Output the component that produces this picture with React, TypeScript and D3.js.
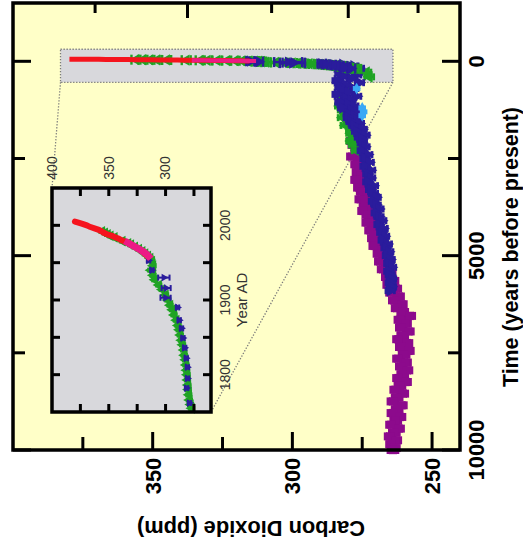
import { useEffect, useRef } from 'react';
import * as d3 from 'd3';

// ice core CO2, [years before present, ppm]
const purpleCore: [number, number][] = [
  [2050, 278.5], [2150, 278], [2250, 277], [2350, 276], [2450, 278.5], [2550, 276], [2650, 277],
  [2750, 275], [2850, 276.5], [2950, 275.5], [3050, 277], [3150, 274.5], [3250, 276], [3350, 275],
  [3450, 273.5], [3550, 275.5], [3650, 274], [3750, 272.5], [3850, 274.5], [3950, 273], [4050, 271.5],
  [4150, 273], [4250, 271], [4350, 272], [4450, 270], [4550, 271], [4650, 269], [4750, 270.5],
  [4850, 268], [4950, 269], [5050, 267], [5150, 268.5], [5250, 266], [5350, 267.5], [5450, 265],
  [5550, 266], [5650, 264], [5750, 265.5], [5850, 263], [5950, 264.5], [6050, 262], [6150, 263.5],
  [6250, 261], [6350, 262.5], [6450, 260.5], [6550, 258], [6650, 261.5], [6750, 259.5], [6850, 261],
  [6950, 258.5], [7050, 260.5], [7150, 262], [7250, 259], [7350, 261], [7450, 258.5], [7550, 260],
  [7650, 262], [7750, 259.5], [7850, 261], [7950, 259], [8050, 260.5], [8150, 262], [8250, 259.5],
  [8350, 261.5], [8450, 263], [8550, 260.5], [8650, 262.5], [8750, 264], [8850, 261], [8950, 262.5],
  [9050, 264], [9150, 261.5], [9250, 263], [9350, 264.5], [9450, 262], [9550, 263.5], [9650, 265],
  [9750, 263], [9850, 264.5], [9950, 263.5], [10000, 264],
];

const blueCore: [number, number][] = [
  [80, 282], [120, 278], [150, 284], [180, 276], [200, 281], [230, 279], [250, 280], [300, 283],
  [350, 277], [400, 282], [450, 279], [500, 284], [550, 276], [600, 281], [650, 283], [700, 278],
  [750, 282], [800, 280], [850, 284], [900, 277], [950, 281], [1000, 279], [1050, 283], [1100, 280],
  [1150, 278], [1200, 282], [1250, 279], [1300, 277], [1350, 280], [1400, 278], [1450, 280],
  [1500, 277], [1550, 279], [1600, 276], [1650, 278], [1700, 277], [1750, 275], [1800, 277],
  [1850, 276], [1900, 274], [1950, 276], [2000, 275], [2100, 275], [2200, 274], [2300, 275],
  [2400, 273], [2500, 274], [2600, 272.5], [2700, 274], [2800, 272], [2900, 273], [3000, 272],
  [3100, 273], [3200, 271], [3300, 272], [3400, 271], [3500, 270], [3600, 271], [3700, 270],
  [3800, 269], [3900, 270], [4000, 269], [4100, 268], [4200, 269], [4300, 267.5], [4400, 268],
  [4500, 267], [4600, 267.5], [4700, 266], [4800, 266.5], [4900, 265.5], [5000, 266], [5100, 265],
  [5200, 265.5], [5300, 264.5], [5400, 265.5], [5500, 265], [5600, 264.5], [5700, 265],
  [5800, 264.5], [5900, 265],
];

const greenCore: [number, number][] = [
  [280, 273.5], [400, 272.5], [700, 280], [900, 282], [1050, 281], [1150, 283], [1250, 282],
  [1350, 281], [1450, 282], [1550, 280], [1650, 281], [1750, 279], [1850, 279], [1950, 278],
  [2050, 279], [2150, 278], [2300, 277],
];

const cyanCore: [number, number][] = [[700, 277], [1200, 275], [1300, 274.5], [1400, 275]];

// since 1750, [year AD, ppm]
const redAtmos: [number, number][] = [
  [1958, 315.3], [1960, 316.9], [1962, 318.4], [1964, 319.6], [1966, 321.4], [1968, 323.0],
  [1970, 325.7], [1972, 327.5], [1974, 330.2], [1976, 332.0], [1978, 335.4], [1980, 338.7],
  [1982, 341.1], [1984, 344.4], [1986, 347.2], [1988, 351.6], [1990, 354.4], [1992, 356.4],
  [1994, 358.8], [1996, 362.6], [1998, 366.7], [2000, 369.4], [2002, 373.2], [2004, 377.5],
  [2005, 379.8],
];

const pinkFirn: [number, number][] = [
  [1955, 313], [1958, 314.5], [1961, 316.5], [1964, 319], [1967, 322], [1970, 325.5],
  [1973, 329], [1976, 332.5], [1979, 336],
];

const greenIce: [number, number][] = [
  [1992, 356], [1990, 353.5], [1988, 351], [1986, 348.5], [1984, 345], [1979, 338], [1976, 333],
  [1974, 330.5], [1971, 327], [1968, 323.5], [1965, 320.5], [1962, 318], [1959, 315.5],
  [1956, 313.5], [1952, 312], [1946, 311], [1940, 313], [1933, 311], [1927, 309.5], [1920, 306],
  [1914, 303], [1907, 300], [1900, 298], [1893, 296], [1887, 294], [1880, 292.5], [1873, 290.5],
  [1866, 289], [1860, 288], [1853, 287], [1846, 286], [1840, 285], [1833, 284], [1826, 283.5],
  [1820, 282.5], [1813, 282], [1806, 281.5], [1800, 281], [1793, 280.7], [1786, 280.3],
  [1780, 280], [1773, 279.5], [1766, 279], [1760, 278], [1755, 277],
];

// [year AD, ppm, error]
const blueIce: [number, number, number][] = [
  [1953, 315, 1.5], [1940, 312, 1.5], [1930, 301.5, 5], [1916, 299.5, 4], [1903, 300, 4.5],
  [1890, 289.5, 1.5], [1873, 288, 1.5], [1862, 286, 1.5], [1849, 284.7, 1.5], [1836, 283.2, 1.5],
  [1822, 281.8, 1.5], [1810, 280.8, 1.5], [1795, 280.7, 1.5], [1782, 281.5, 1.5], [1762, 279, 1.5],
];

const co2Major = [350, 300, 250];
const co2Minor = [375, 325, 275];
const timeMajor = [0, 5000, 10000];
const timeMinor = [2500, 7500];
const forcingMajor = [0, 1];
const forcingMinor = [-0.5, 0.5, 1.5];
const insetCo2Labels = [400, 350, 300];
const insetCo2Ticks = [375, 350, 325, 300, 275];
const insetYearLabels = [1800, 1900, 2000];
const insetYearTicks = [1800, 1850, 1900, 1950, 2000];
const zoomCo2 = [383, 264];
const zoomTime = [-310, 540];

const C = {
  plotBg: '#ffffc8',
  grey: '#d8d8dc',
  dots: '#7a7a7a',
  purple: '#8c0a8c',
  blue: '#2a1c9c',
  green: '#1fa324',
  cyan: '#3aa8f5',
  red: '#f5141e',
  pink: '#ec1a86',
};
const FONT = '"Liberation Sans", Arial, sans-serif';

type Pt = { x: number; y: number; lo: number; hi: number };

function drawMarks(g: any, pts: Pt[], color: string, shape: any, size: number, rot: number, cap: number, sw: number) {
  const gg = g.append('g').attr('stroke', color).attr('fill', color);
  gg.selectAll('line.err').data(pts).join('line').attr('class', 'err')
    .attr('x1', (d: Pt) => d.lo).attr('x2', (d: Pt) => d.hi)
    .attr('y1', (d: Pt) => d.y).attr('y2', (d: Pt) => d.y)
    .attr('stroke-width', sw);
  ['lo', 'hi'].forEach(k => {
    gg.selectAll(`line.cap${k}`).data(pts).join('line').attr('class', `cap${k}`)
      .attr('x1', (d: any) => d[k]).attr('x2', (d: any) => d[k])
      .attr('y1', (d: Pt) => d.y - cap / 2).attr('y2', (d: Pt) => d.y + cap / 2)
      .attr('stroke-width', sw);
  });
  gg.selectAll('path').data(pts).join('path')
    .attr('d', d3.symbol().type(shape).size(size))
    .attr('stroke', 'none')
    .attr('transform', (d: Pt) => `translate(${d.x},${d.y}) rotate(${rot})`);
}

export default function App() {
  const ref = useRef<SVGSVGElement>(null);

  useEffect(() => {
    const svg = d3.select(ref.current);
    svg.selectAll('*').remove();

    const x = d3.scaleLinear().domain([400, 240]).range([13, 460]);
    const y = d3.scaleLinear().domain([-1500, 10000]).range([3, 450]);
    const bp = (yr: number) => 1950 - yr;
    const [x0, x1] = x.range();
    const [y0, y1] = y.range();

    svg.append('rect').attr('x', x0).attr('y', y0).attr('width', x1 - x0).attr('height', y1 - y0)
      .attr('fill', C.plotBg);

    // zoom box + connectors
    const bx0 = x(zoomCo2[0]), bx1 = x(zoomCo2[1]), by0 = y(zoomTime[0]), by1 = y(zoomTime[1]);
    svg.append('rect').attr('x', bx0).attr('y', by0).attr('width', bx1 - bx0).attr('height', by1 - by0)
      .attr('fill', C.grey).attr('stroke', C.dots).attr('stroke-width', 1.3).attr('stroke-dasharray', '1.3,1.7');

    const ix = d3.scaleLinear().domain([400, 260]).range([52, 211]);
    const iy = d3.scaleLinear().domain([2050, 1750]).range([188, 412]);
    const [ix0, ix1] = ix.range();
    const [iy0, iy1] = iy.range();

    const conn = svg.append('g').attr('stroke', C.dots).attr('stroke-width', 1.3).attr('stroke-dasharray', '1.3,1.7');
    conn.append('line').attr('x1', bx0).attr('y1', by1).attr('x2', ix0).attr('y2', iy0);
    conn.append('line').attr('x1', bx1).attr('y1', by1).attr('x2', ix1).attr('y2', iy1);

    // main data
    const mp = (t: number, c: number, e: number): Pt => ({ x: x(c), y: y(t), lo: x(c + e), hi: x(c - e) });
    drawMarks(svg, purpleCore.map(([t, c]) => mp(t, c, 1.7)), C.purple, d3.symbolSquare, 70, 0, 8, 3.2);
    drawMarks(svg, greenCore.map(([t, c]) => mp(t, c, 1.6)), C.green, d3.symbolTriangle, 60, -90, 7, 2.8);
    drawMarks(svg, blueCore.map(([t, c]) => mp(t, c, 1.5)), C.blue, d3.symbolTriangle, 60, 90, 7, 2.8);
    drawMarks(svg, cyanCore.map(([t, c]) => mp(t, c, 1)), C.cyan, d3.symbolDiamond, 40, 0, 5, 2);
    drawMarks(svg, greenIce.map(([yr, c]) => mp(bp(yr), c, 1.6)), C.green, d3.symbolTriangle, 55, -90, 10, 2.4);
    drawMarks(svg, blueIce.map(([yr, c, e]) => mp(bp(yr), c, e)), C.blue, d3.symbolTriangle, 55, 90, 10, 2.4);

    const mline = d3.line<[number, number]>().x(d => x(d[1])).y(d => y(bp(d[0])));
    svg.append('path').datum(redAtmos).attr('d', mline).attr('fill', 'none')
      .attr('stroke', C.red).attr('stroke-width', 5);
    svg.append('path').datum(pinkFirn).attr('d', mline).attr('fill', 'none')
      .attr('stroke', C.pink).attr('stroke-width', 4);

    // inset
    const inset = svg.append('g');
    inset.append('rect').attr('x', ix0).attr('y', iy0).attr('width', ix1 - ix0).attr('height', iy1 - iy0)
      .attr('fill', C.grey);
    const ip = (yr: number, c: number, e: number): Pt => ({ x: ix(c), y: iy(yr), lo: ix(c + e), hi: ix(c - e) });
    drawMarks(inset, greenIce.map(([yr, c]) => ip(yr, c, 2)), C.green, d3.symbolTriangle, 50, -90, 5, 2.6);
    drawMarks(inset, blueIce.map(([yr, c, e]) => ip(yr, c, e)), C.blue, d3.symbolTriangle, 26, 90, 6, 2);
    const iline = d3.line<[number, number]>().x(d => ix(d[1])).y(d => iy(d[0]));
    inset.append('path').datum(redAtmos).attr('d', iline).attr('fill', 'none')
      .attr('stroke', C.red).attr('stroke-width', 6).attr('stroke-linecap', 'round');
    inset.append('path').datum(pinkFirn).attr('d', iline).attr('fill', 'none')
      .attr('stroke', C.pink).attr('stroke-width', 7);

    const it = inset.append('g').attr('stroke', '#000').attr('stroke-width', 3);
    insetCo2Ticks.forEach(v => {
      it.append('line').attr('x1', ix(v)).attr('x2', ix(v)).attr('y1', iy0).attr('y2', iy0 + 8);
      it.append('line').attr('x1', ix(v)).attr('x2', ix(v)).attr('y1', iy1).attr('y2', iy1 - 8);
    });
    insetYearTicks.forEach(v => {
      it.append('line').attr('y1', iy(v)).attr('y2', iy(v)).attr('x1', ix0).attr('x2', ix0 + 8);
      it.append('line').attr('y1', iy(v)).attr('y2', iy(v)).attr('x1', ix1).attr('x2', ix1 - 8);
    });
    inset.append('rect').attr('x', ix0).attr('y', iy0).attr('width', ix1 - ix0).attr('height', iy1 - iy0)
      .attr('fill', 'none').attr('stroke', '#000').attr('stroke-width', 3.5);

    const itxt = inset.append('g').attr('font-family', FONT).attr('font-size', 14).attr('fill', '#333')
      .attr('text-anchor', 'middle');
    insetCo2Labels.forEach(v => {
      itxt.append('text').attr('transform', `translate(${ix(v)},168) rotate(-90)`).attr('dy', '0.35em')
        .text(String(v));
    });
    insetYearLabels.forEach(v => {
      itxt.append('text').attr('transform', `translate(225,${iy(v)}) rotate(-90)`).attr('dy', '0.35em')
        .text(String(v));
    });
    itxt.append('text').attr('transform', `translate(247,${iy(1900)}) rotate(-90)`).attr('font-size', 15)
      .text('Year AD');

    // main frame and ticks
    const tk = svg.append('g').attr('stroke', '#000').attr('stroke-width', 3);
    const forcingX = (f: number) => x(280 * Math.exp(f / 5.35));
    co2Major.forEach(v => tk.append('line').attr('x1', x(v)).attr('x2', x(v)).attr('y1', y1).attr('y2', y1 - 18));
    co2Minor.forEach(v => tk.append('line').attr('x1', x(v)).attr('x2', x(v)).attr('y1', y1).attr('y2', y1 - 13));
    forcingMajor.forEach(f => tk.append('line').attr('x1', forcingX(f)).attr('x2', forcingX(f)).attr('y1', y0).attr('y2', y0 + 15));
    forcingMinor.forEach(f => tk.append('line').attr('x1', forcingX(f)).attr('x2', forcingX(f)).attr('y1', y0).attr('y2', y0 + 10));
    timeMajor.forEach(v => {
      tk.append('line').attr('y1', y(v)).attr('y2', y(v)).attr('x1', x1).attr('x2', x1 - 18);
      tk.append('line').attr('y1', y(v)).attr('y2', y(v)).attr('x1', x0).attr('x2', x0 + 18);
    });
    timeMinor.forEach(v => {
      tk.append('line').attr('y1', y(v)).attr('y2', y(v)).attr('x1', x1).attr('x2', x1 - 12);
      tk.append('line').attr('y1', y(v)).attr('y2', y(v)).attr('x1', x0).attr('x2', x0 + 12);
    });
    svg.append('rect').attr('x', x0).attr('y', y0).attr('width', x1 - x0).attr('height', y1 - y0)
      .attr('fill', 'none').attr('stroke', '#000').attr('stroke-width', 3.5);

    const lab = svg.append('g').attr('font-family', FONT).attr('font-weight', 'bold').attr('font-size', 22)
      .attr('fill', '#000').attr('text-anchor', 'middle');
    co2Major.forEach(v => {
      lab.append('text').attr('transform', `translate(${x(v)},476) rotate(-90)`).attr('dy', '0.36em').text(String(v));
    });
    timeMajor.forEach(v => {
      lab.append('text').attr('transform', `translate(476,${y(v)}) rotate(-90)`).attr('dy', '0.36em').text(String(v));
    });
    lab.append('text').attr('transform', 'translate(251,521) rotate(180)').attr('font-size', 21.5)
      .attr('textLength', 228).attr('lengthAdjust', 'spacingAndGlyphs').text('Carbon Dioxide (ppm)');
    lab.append('text').attr('transform', 'translate(518,247) rotate(-90)').attr('font-size', 21.5)
      .attr('textLength', 280).attr('lengthAdjust', 'spacingAndGlyphs').text('Time (years before present)');
  }, []);

  return (
    <svg ref={ref} width={523} height={548}
      style={{ position: 'absolute', left: 0, top: 0, background: '#fff', display: 'block' }} />
  );
}
